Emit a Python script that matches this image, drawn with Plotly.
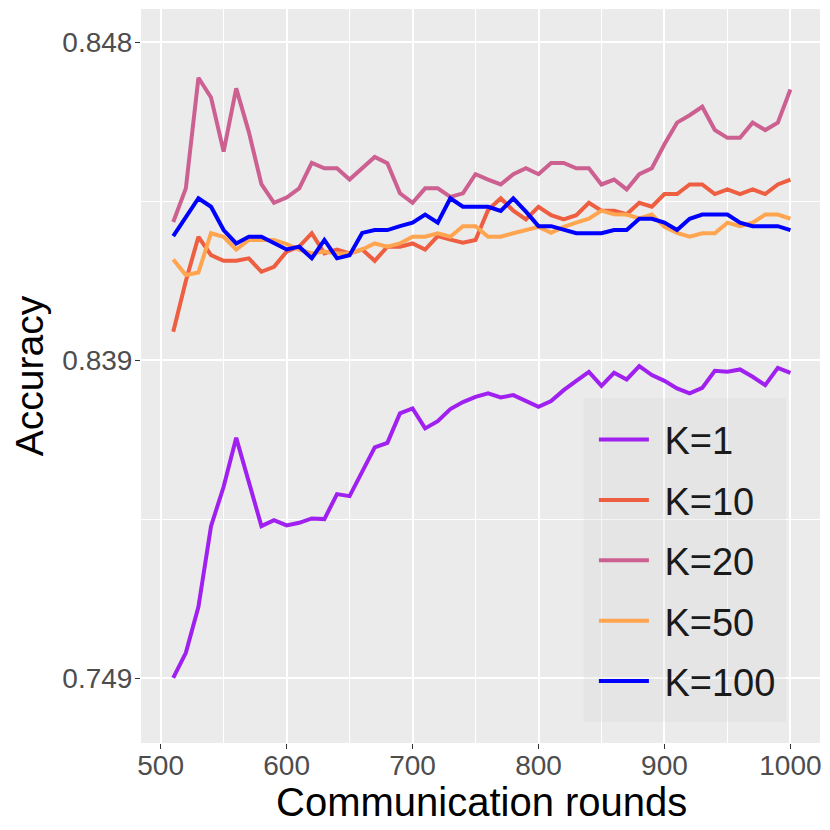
import plotly.graph_objects as go

# communication rounds
rounds = [510, 520, 530, 540, 550, 560, 570, 580, 590, 600,
          610, 620, 630, 640, 650, 660, 670, 680, 690, 700,
          710, 720, 730, 740, 750, 760, 770, 780, 790, 800,
          810, 820, 830, 840, 850, 860, 870, 880, 890, 900,
          910, 920, 930, 940, 950, 960, 970, 980, 990, 1000]

acc_k1 = [0.74908, 0.75616, 0.76918, 0.79202, 0.80314, 0.81700, 0.80455, 0.79202, 0.79371, 0.79221,
          0.79295, 0.79420, 0.79400, 0.80107, 0.80051, 0.80758, 0.81429, 0.81559, 0.82391, 0.82533,
          0.81967, 0.82173, 0.82513, 0.82711, 0.82861, 0.82957, 0.82844, 0.82909, 0.82739, 0.82578,
          0.82739, 0.83050, 0.83314, 0.83568, 0.83172, 0.83540, 0.83353, 0.83730, 0.83475, 0.83314,
          0.83099, 0.82957, 0.83115, 0.83597, 0.83568, 0.83636, 0.83427, 0.83192, 0.83681, 0.83540]

acc_k10 = [0.83980, 0.84124, 0.84249, 0.84197, 0.84181, 0.84181, 0.84188, 0.84150, 0.84164, 0.84207,
           0.84221, 0.84259, 0.84202, 0.84213, 0.84202, 0.84213, 0.84181, 0.84221, 0.84221, 0.84230,
           0.84213, 0.84251, 0.84241, 0.84232, 0.84240, 0.84325, 0.84358, 0.84323, 0.84298, 0.84334,
           0.84310, 0.84298, 0.84310, 0.84345, 0.84323, 0.84323, 0.84313, 0.84345, 0.84334, 0.84370,
           0.84370, 0.84397, 0.84397, 0.84370, 0.84383, 0.84370, 0.84383, 0.84370, 0.84397, 0.84411]

acc_k20 = [0.84291, 0.84386, 0.84699, 0.84643, 0.84490, 0.84669, 0.84546, 0.84398, 0.84345, 0.84360,
           0.84386, 0.84458, 0.84443, 0.84443, 0.84411, 0.84444, 0.84475, 0.84457, 0.84372, 0.84345,
           0.84386, 0.84386, 0.84362, 0.84372, 0.84426, 0.84411, 0.84397, 0.84426, 0.84443, 0.84426,
           0.84458, 0.84458, 0.84443, 0.84443, 0.84397, 0.84411, 0.84383, 0.84426, 0.84443, 0.84511,
           0.84572, 0.84593, 0.84617, 0.84551, 0.84529, 0.84529, 0.84572, 0.84551, 0.84572, 0.84666]

acc_k50 = [0.84185, 0.84141, 0.84148, 0.84259, 0.84249, 0.84213, 0.84240, 0.84240, 0.84240, 0.84228,
           0.84213, 0.84202, 0.84207, 0.84202, 0.84202, 0.84213, 0.84230, 0.84221, 0.84230, 0.84249,
           0.84249, 0.84259, 0.84249, 0.84279, 0.84279, 0.84249, 0.84249, 0.84259, 0.84268, 0.84277,
           0.84260, 0.84277, 0.84289, 0.84300, 0.84323, 0.84313, 0.84312, 0.84301, 0.84312, 0.84277,
           0.84260, 0.84249, 0.84259, 0.84259, 0.84289, 0.84279, 0.84289, 0.84312, 0.84312, 0.84300]

acc_k100 = [0.84251, 0.84304, 0.84358, 0.84334, 0.84268, 0.84230, 0.84249, 0.84249, 0.84230, 0.84213,
            0.84221, 0.84188, 0.84240, 0.84188, 0.84197, 0.84260, 0.84268, 0.84268, 0.84279, 0.84289,
            0.84312, 0.84289, 0.84358, 0.84334, 0.84334, 0.84334, 0.84322, 0.84358, 0.84320, 0.84279,
            0.84279, 0.84268, 0.84259, 0.84259, 0.84259, 0.84268, 0.84268, 0.84300, 0.84300, 0.84289,
            0.84268, 0.84300, 0.84312, 0.84312, 0.84312, 0.84289, 0.84279, 0.84279, 0.84279, 0.84268]

names = ['K=1', 'K=10', 'K=20', 'K=50', 'K=100']
colors = ['#A020F0', '#EE5E40', '#CC6091', '#FFA54F', '#0000FF']

# y axis is squeezed: 0.749 -> 0.839 takes the same room as 0.839 -> 0.848
y_breaks = [0.749, 0.839, 0.848]


def squash(v):
    if v >= y_breaks[1]:
        return 1 + (v - y_breaks[1]) / (y_breaks[2] - y_breaks[1])
    return (v - y_breaks[0]) / (y_breaks[1] - y_breaks[0])


fig = go.Figure()
for name, col, acc in zip(names, colors, [acc_k1, acc_k10, acc_k20, acc_k50, acc_k100]):
    fig.add_trace(go.Scatter(x=rounds, y=[squash(v) for v in acc], mode='lines',
                             name=' ' + name, legendgroup=name,
                             line=dict(color=col, width=4),
                             customdata=acc, hovertemplate='%{x}: %{customdata}'))

# legend panel (semi transparent like ggplot's)
fig.add_shape(type='rect', xref='paper', yref='paper', x0=0.652, x1=0.950, y0=0.0286, y1=0.470,
              fillcolor='rgba(204,204,204,0.2)', line=dict(width=0), layer='above')

# x title as annotation so it sits tight under the tick labels
fig.add_annotation(text='Communication rounds', xref='paper', yref='paper', x=0.5015, y=-0.081,
                   xanchor='center', yanchor='middle', showarrow=False,
                   font=dict(size=40, color='black'))

# page body has an 8px margin, so the figure is 822 wide
fig.update_layout(
    width=822, height=822,
    margin=dict(l=133, r=10, t=1, b=87),
    paper_bgcolor='white',
    plot_bgcolor='#EBEBEB',
    font=dict(family='Liberation Sans, Arial, sans-serif', color='#4D4D4D'),
    legend=dict(x=0.667, y=0.456, xanchor='left', yanchor='top',
                bgcolor='rgba(0,0,0,0)', font=dict(size=38, color='#1A1A1A'),
                traceorder='grouped', tracegroupgap=8, itemwidth=50),
)

fig.update_xaxes(range=[484.4, 1023.5], tickvals=[500, 600, 700, 800, 900, 1000],
                 showgrid=True, gridcolor='white', gridwidth=2, zeroline=False,
                 ticks='outside', ticklen=5, tickcolor='#333333', tickwidth=1,
                 tickfont=dict(size=28, color='#4D4D4D'), ticklabelstandoff=-8,
                 minor=dict(tickvals=[550, 650, 750, 850, 950], showgrid=True,
                            gridcolor='white', gridwidth=1, ticks=''))

fig.update_yaxes(range=[-0.204, 2.104], tickvals=[squash(v) for v in y_breaks],
                 ticktext=[str(v) for v in y_breaks],
                 showgrid=True, gridcolor='white', gridwidth=2, zeroline=False,
                 ticks='outside', ticklen=5, tickcolor='#333333', tickwidth=1,
                 tickfont=dict(size=28, color='#4D4D4D'), ticklabelstandoff=-3,
                 minor=dict(tickvals=[0.5, 1.5], showgrid=True,
                            gridcolor='white', gridwidth=1, ticks=''),
                 title=dict(text='Accuracy', font=dict(size=39, color='black'), standoff=15))

fig.write_html("out.html")
